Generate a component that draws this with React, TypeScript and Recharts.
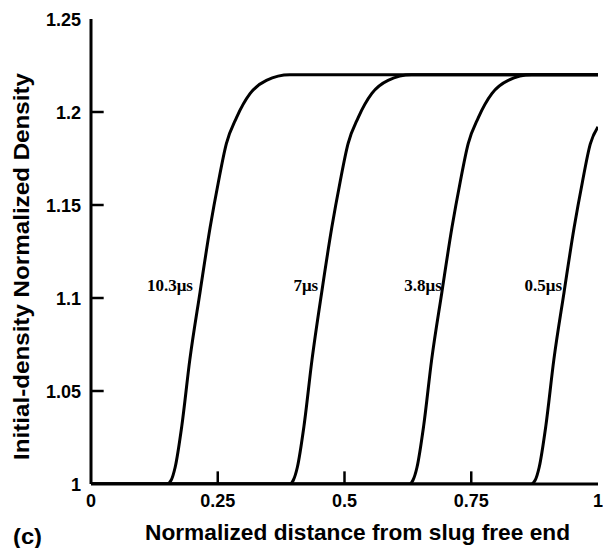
import React from 'react';
import { LineChart, Line, XAxis, YAxis, ReferenceDot, Label } from 'recharts';

const xTicks = [0, 0.25, 0.5, 0.75, 1];
const yTicks = [1, 1.05, 1.1, 1.15, 1.2, 1.25];

const curve103 = [
  { x: 0, y: 1 }, { x: 0.15, y: 1 }, { x: 0.158, y: 1.002 }, { x: 0.166, y: 1.009 },
  { x: 0.179, y: 1.031 }, { x: 0.195, y: 1.067 }, { x: 0.215, y: 1.103 }, { x: 0.235, y: 1.138 },
  { x: 0.251, y: 1.162 }, { x: 0.267, y: 1.183 }, { x: 0.287, y: 1.197 }, { x: 0.314, y: 1.21 },
  { x: 0.346, y: 1.217 }, { x: 0.392, y: 1.22 }, { x: 1, y: 1.22 },
];
const curve7 = [
  { x: 0, y: 1 }, { x: 0.392, y: 1 }, { x: 0.399, y: 1.002 }, { x: 0.407, y: 1.009 },
  { x: 0.42, y: 1.031 }, { x: 0.436, y: 1.067 }, { x: 0.455, y: 1.103 }, { x: 0.475, y: 1.138 },
  { x: 0.491, y: 1.162 }, { x: 0.507, y: 1.183 }, { x: 0.527, y: 1.197 }, { x: 0.554, y: 1.21 },
  { x: 0.586, y: 1.217 }, { x: 0.632, y: 1.22 }, { x: 1, y: 1.22 },
];
const curve38 = [
  { x: 0, y: 1 }, { x: 0.628, y: 1 }, { x: 0.635, y: 1.002 }, { x: 0.643, y: 1.009 },
  { x: 0.656, y: 1.031 }, { x: 0.672, y: 1.067 }, { x: 0.692, y: 1.103 }, { x: 0.712, y: 1.138 },
  { x: 0.728, y: 1.162 }, { x: 0.744, y: 1.183 }, { x: 0.764, y: 1.197 }, { x: 0.791, y: 1.21 },
  { x: 0.823, y: 1.217 }, { x: 0.869, y: 1.22 }, { x: 1, y: 1.22 },
];
const curve05 = [
  { x: 0, y: 1 }, { x: 0.868, y: 1 }, { x: 0.876, y: 1.002 }, { x: 0.884, y: 1.009 },
  { x: 0.897, y: 1.031 }, { x: 0.913, y: 1.067 }, { x: 0.933, y: 1.103 }, { x: 0.953, y: 1.138 },
  { x: 0.969, y: 1.162 }, { x: 0.985, y: 1.183 }, { x: 1, y: 1.192 },
];

const curveLabels = [
  { text: '10.3\u03bcs', x: 0.205, y: 1.107 },
  { text: '7\u03bcs', x: 0.452, y: 1.107 },
  { text: '3.8\u03bcs', x: 0.696, y: 1.107 },
  { text: '0.5\u03bcs', x: 0.933, y: 1.107 },
];

const series = [curve103, curve7, curve38, curve05];

const SANS = '"Liberation Sans", Arial, sans-serif';
const SERIF = '"Liberation Serif", "Times New Roman", serif';
// inward tick-mark lengths in axis units (about 12px each)
const X_TICK_LEN = 0.0068;
const Y_TICK_LEN = 0.025;

// tick marks built from the tick arrays, drawn as short line series through the scales
const xTickMarks = xTicks.slice(1, -1).map((t) => [
  { x: t, y: 1 },
  { x: t, y: 1 + X_TICK_LEN },
]);
const yTickMarks = yTicks.slice(1, -1).map((t) => [
  { x: 0, y: t },
  { x: Y_TICK_LEN, y: t },
]);

const XTick = (props: any) => {
  const { x, y, payload } = props;
  return (
    <text x={x} y={y + 23} textAnchor="middle" fontFamily={SANS} fontWeight="bold" fontSize={18} fill="#000">
      {String(payload.value)}
    </text>
  );
};

const YTick = (props: any) => {
  const { x, y, payload } = props;
  return (
    <text x={x - 10} y={y + 6.5} textAnchor="end" fontFamily={SANS} fontWeight="bold" fontSize={18} fill="#000">
      {String(payload.value)}
    </text>
  );
};

const XTitle = (props: any) => {
  const vb = props.viewBox || { x: 91, y: 484, width: 507, height: 30 };
  const cx = vb.x + vb.width / 2 + 13;
  return (
    <g>
      <text x={cx} y={vb.y + 56} textAnchor="middle" fontFamily={SANS} fontWeight="bold" fontSize={22}
        textLength={425} lengthAdjust="spacingAndGlyphs" fill="#000">
        Normalized distance from slug free end
      </text>
      <text x={13} y={vb.y + 60} fontFamily={SANS} fontWeight="bold" fontSize={22}
        textLength={29} lengthAdjust="spacingAndGlyphs" fill="#000">
        (c)
      </text>
    </g>
  );
};

const YTitle = (props: any) => {
  const vb = props.viewBox || { x: 0, y: 19, width: 91, height: 465 };
  const cx = 21;
  const cy = vb.y + vb.height / 2 + 15;
  return (
    <text x={cx} y={cy} transform={`rotate(-90, ${cx}, ${cy})`} textAnchor="middle" dominantBaseline="central"
      fontFamily={SANS} fontWeight="bold" fontSize={22} textLength={387} lengthAdjust="spacingAndGlyphs" fill="#000">
      Initial-density Normalized Density
    </text>
  );
};

export default function App() {
  return (
    <div style={{ position: 'absolute', left: 0, top: 0, width: 603, height: 548, background: '#fff' }}>
      <LineChart width={603} height={548} margin={{ top: 19, right: 5, left: 0, bottom: 34 }}>
        <XAxis
          xAxisId="b"
          dataKey="x"
          type="number"
          domain={[0, 1]}
          ticks={xTicks}
          allowDataOverflow
          height={30}
          tickSize={0}
          tickMargin={0}
          tickLine={false}
          axisLine={{ stroke: '#000', strokeWidth: 3 }}
          tick={<XTick />}
          interval={0}
        >
          <Label content={<XTitle />} />
        </XAxis>
        <XAxis
          xAxisId="t"
          orientation="top"
          dataKey="x"
          type="number"
          domain={[0, 1]}
          height={0}
          tick={false}
          tickLine={false}
          axisLine={{ stroke: '#000', strokeWidth: 3 }}
        />
        <YAxis
          yAxisId="l"
          type="number"
          domain={[1, 1.25]}
          ticks={yTicks}
          allowDataOverflow
          width={91}
          tickSize={0}
          tickMargin={0}
          tickLine={false}
          axisLine={{ stroke: '#000', strokeWidth: 3 }}
          tick={<YTick />}
          interval={0}
        >
          <Label content={<YTitle />} />
        </YAxis>
        <YAxis
          yAxisId="r"
          orientation="right"
          type="number"
          domain={[1, 1.25]}
          width={0}
          tick={false}
          tickLine={false}
          axisLine={{ stroke: '#000', strokeWidth: 3 }}
        />
        {series.map((d, i) => (
          <Line
            key={i}
            xAxisId="b"
            yAxisId="l"
            data={d}
            dataKey="y"
            type="monotone"
            stroke="#000"
            strokeWidth={3}
            dot={false}
            activeDot={false}
            isAnimationActive={false}
          />
        ))}
        {xTickMarks.map((d, i) => (
          <Line
            key={'xt' + i}
            xAxisId="b"
            yAxisId="l"
            data={d}
            dataKey="y"
            type="linear"
            stroke="#000"
            strokeWidth={2.5}
            dot={false}
            activeDot={false}
            legendType="none"
            isAnimationActive={false}
          />
        ))}
        {yTickMarks.map((d, i) => (
          <Line
            key={'yt' + i}
            xAxisId="b"
            yAxisId="l"
            data={d}
            dataKey="y"
            type="linear"
            stroke="#000"
            strokeWidth={2.5}
            dot={false}
            activeDot={false}
            legendType="none"
            isAnimationActive={false}
          />
        ))}
        {curveLabels.map((l, i) => (
          <ReferenceDot
            key={'l' + i}
            xAxisId="b"
            yAxisId="l"
            x={l.x}
            y={l.y}
            r={0}
            fill="none"
            stroke="none"
            label={{
              value: l.text,
              position: 'left',
              offset: 2,
              fill: '#000',
              fontFamily: SERIF,
              fontWeight: 'bold',
              fontSize: 17,
            }}
          />
        ))}
      </LineChart>
    </div>
  );
}
